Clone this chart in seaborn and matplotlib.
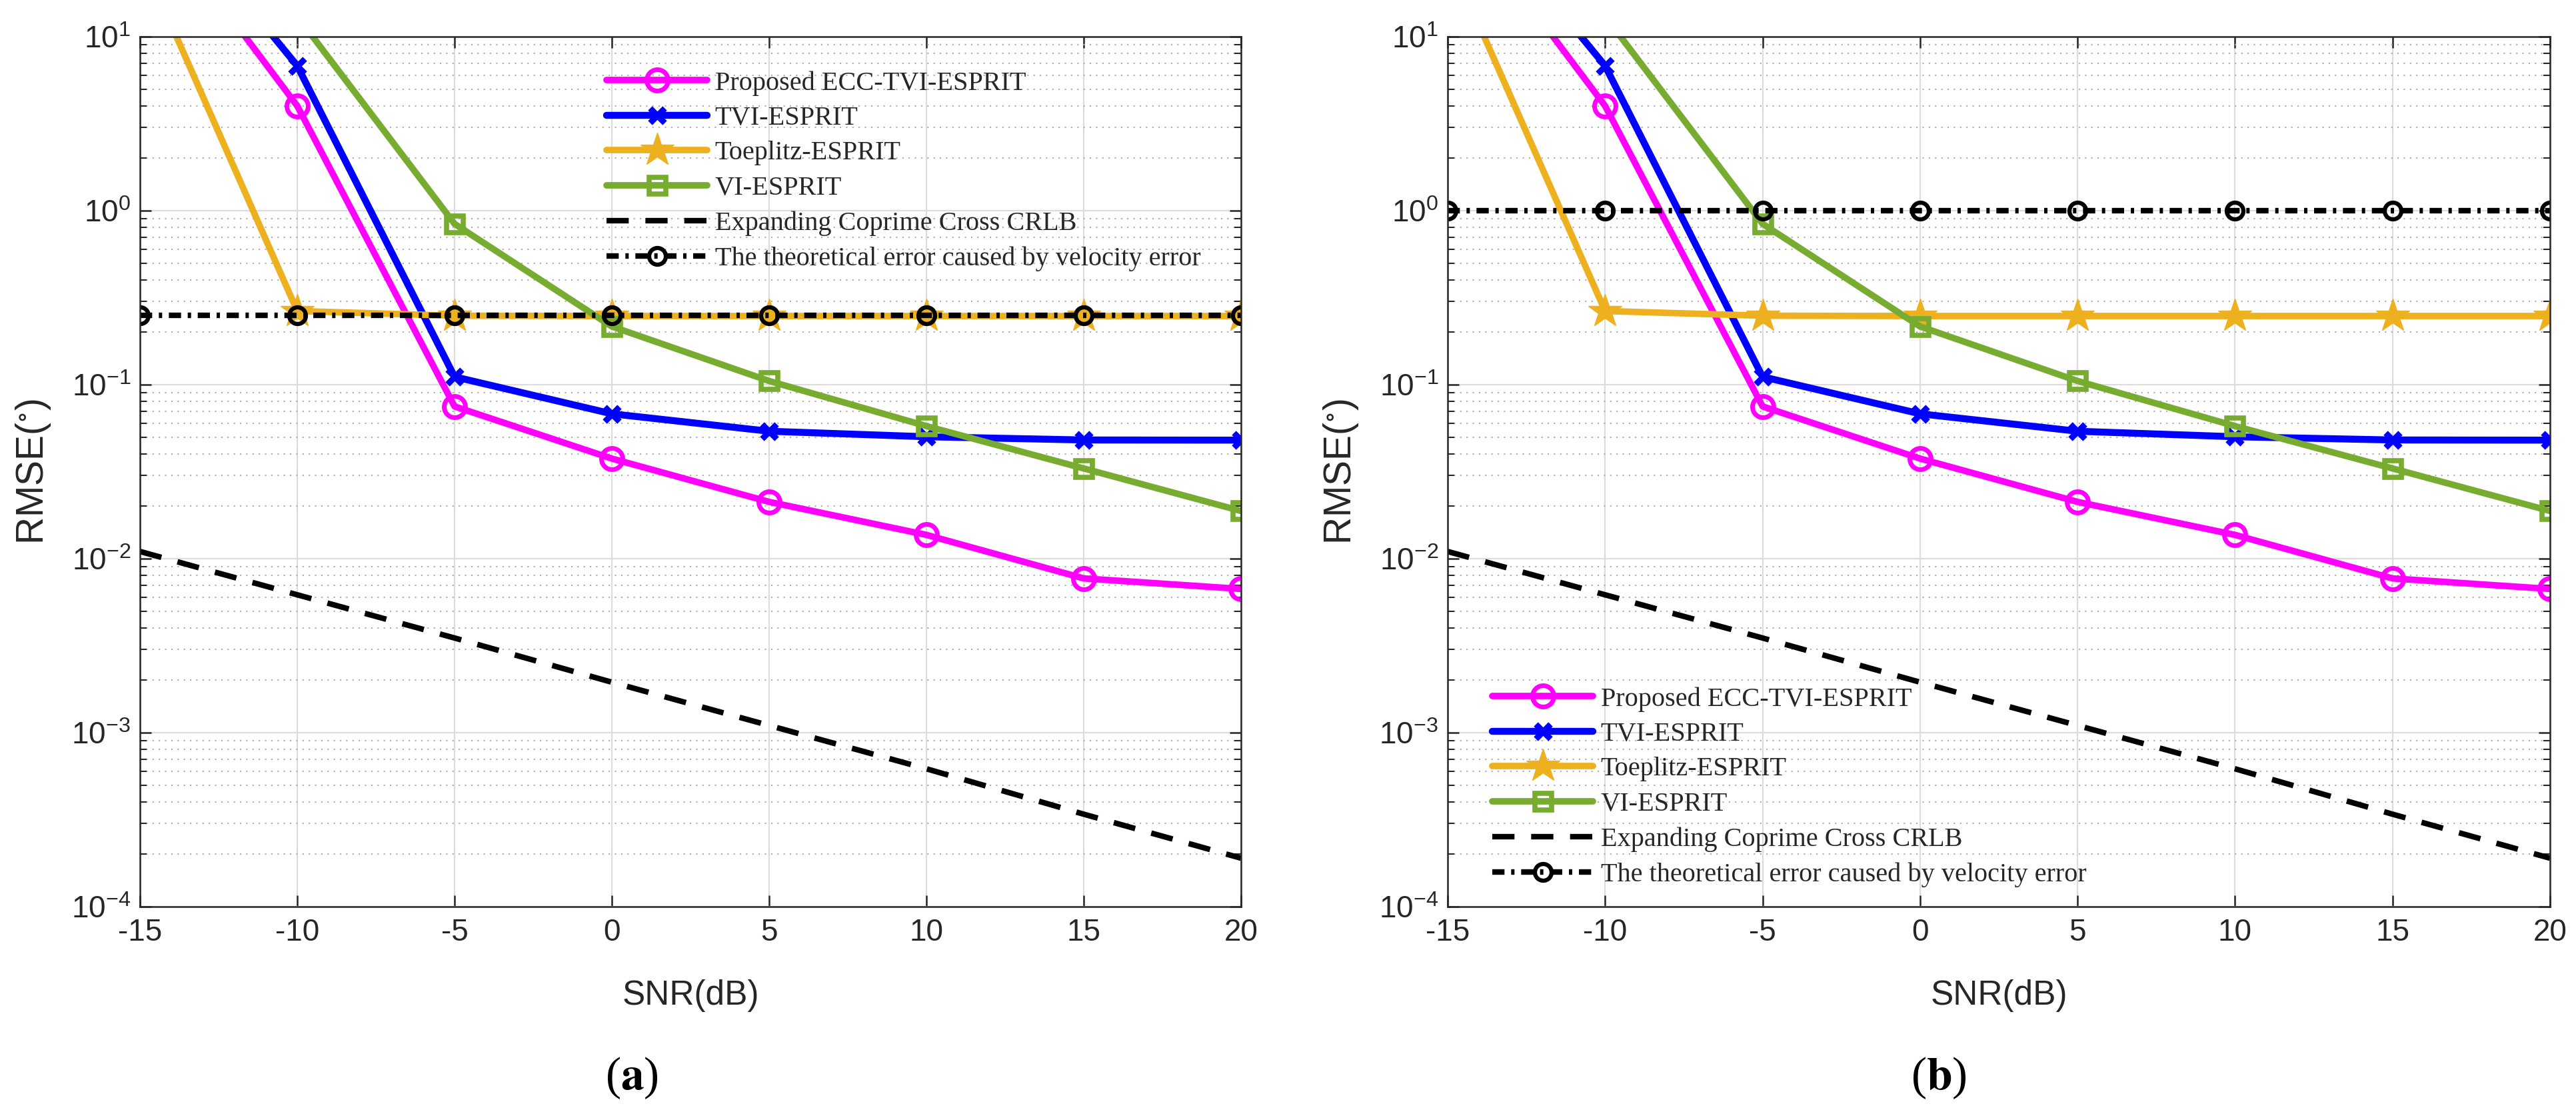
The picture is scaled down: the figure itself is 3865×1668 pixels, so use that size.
import numpy as np
import pandas as pd
import matplotlib
matplotlib.use("Agg")
import matplotlib.pyplot as plt
import seaborn as sns
from matplotlib.ticker import LogLocator, NullFormatter, LogFormatterSciNotation
from matplotlib.font_manager import FontProperties

# ---------------- data ----------------
snr = [-15, -10, -5, 0, 5, 10, 15, 20]
proposed = [64, 4.0, 0.075, 0.0376, 0.0212, 0.0137, 0.0077, 0.0067]
tvi = [86, 6.8, 0.111, 0.068, 0.054, 0.0502, 0.0481, 0.048]
toeplitz = [30, 0.265, 0.249, 0.248, 0.248, 0.248, 0.248, 0.248]
vi = [205, 13.1, 0.84, 0.216, 0.105, 0.0578, 0.033, 0.0188]
crlb = [0.011, 0.0062, 0.0035, 0.00195, 0.0011, 0.00062, 0.00034, 0.00019]
theo_a = [0.25, 0.25, 0.25, 0.25, 0.25, 0.25, 0.25, 0.25]
theo_b = [1.0, 1.0, 1.0, 1.0, 1.0, 1.0, 1.0, 1.0]

labels = ["Proposed ECC-TVI-ESPRIT", "TVI-ESPRIT", "Toeplitz-ESPRIT", "VI-ESPRIT",
          "Expanding Coprime Cross CRLB", "The theoretical error caused by velocity error"]
xticks = [-15, -10, -5, 0, 5, 10, 15, 20]
panel_tags = ["a", "b"]

# ---------------- style ----------------
sns.set_style("ticks")
plt.rcParams["font.family"] = ["Liberation Sans", "DejaVu Sans"]
plt.rcParams["mathtext.fontset"] = "stix"
TXT = "#262626"

W, H = 3865, 1668
fig = plt.figure(figsize=(W / 100, H / 100), dpi=100)

def fx(px):
    return px / W

def fy(py):
    return 1 - py / H

top_px, bot_px = 55, 1360
axes_px = [(210, 1862), (2172, 3826)]
legend_anchor = [(910, 106), (2239, 1030)]
tag_pos = [(948, 1617), (2909, 1617)]
theos = [theo_a, theo_b]

for i in range(2):
    l, r = axes_px[i]
    ax = fig.add_axes([fx(l), fy(bot_px), (r - l) / W, (bot_px - top_px) / H])
    ax.set_yscale("log")

    sns.lineplot(x=snr, y=proposed, ax=ax, color="#FF00FF", lw=7, marker="o", ms=23,
                 mfc="none", mec="#FF00FF", mew=5, label=labels[0])
    sns.lineplot(x=snr, y=tvi, ax=ax, color="#0000FF", lw=7.5, marker="x", ms=16,
                 mec="#0000FF", mew=6.5, label=labels[1])
    sns.lineplot(x=snr, y=toeplitz, ax=ax, color="#EDB120", lw=7, marker="*", ms=38,
                 mfc="#EDB120", mec="#EDB120", mew=1, label=labels[2])
    sns.lineplot(x=snr, y=vi, ax=ax, color="#77AC30", lw=7, marker="s", ms=18,
                 mfc="none", mec="#77AC30", mew=5.5, label=labels[3])
    sns.lineplot(x=snr, y=crlb, ax=ax, color="black", lw=6, linestyle=(0, (4, 3)),
                 label=labels[4])
    sns.lineplot(x=snr, y=theos[i], ax=ax, color="black", lw=6,
                 linestyle=(0, (2.2, 1.2, 0.6, 1.2)), marker="o", ms=18, mfc="none",
                 mec="black", mew=4.5, label=labels[5])
    for ln in ax.get_lines():
        ln.set_clip_on(True)
        ln.set_solid_joinstyle("round")

    ax.set_xlim(-15, 20)
    ax.set_ylim(1e-4, 10)
    ax.set_xticks(xticks)
    ax.set_xticklabels([str(t) for t in xticks])
    ax.yaxis.set_major_locator(LogLocator(base=10, numticks=10))
    ax.yaxis.set_minor_locator(LogLocator(base=10, subs=np.arange(2, 10), numticks=20))
    ax.yaxis.set_major_formatter(LogFormatterSciNotation())
    ax.yaxis.set_minor_formatter(NullFormatter())

    ax.grid(True, which="major", axis="both", color="#dcdcdc", lw=1.6, ls="-")
    ax.grid(True, which="minor", axis="y", color="#adadad", lw=1.5, ls=(0, (1, 3.5)))
    ax.set_axisbelow(True)

    for s in ax.spines.values():
        s.set_visible(True)
        s.set_color(TXT)
        s.set_linewidth(1.8)
    ax.tick_params(axis="both", which="major", direction="in", length=12, width=1.8,
                   colors=TXT, labelsize=33, top=True, right=True, pad=12)
    ax.tick_params(axis="y", which="minor", direction="in", length=7, width=1.5,
                   colors=TXT, right=True, left=True)
    ax.tick_params(axis="y", which="major", pad=10)

    ax.set_xlabel("SNR(dB)", fontsize=37, color=TXT)
    ax.set_ylabel(r"RMSE($^{\circ}$)", fontsize=41, color=TXT)
    ax.xaxis.set_label_coords(0.5, (bot_px - 1494) / (bot_px - top_px))
    ax.xaxis.label.set_va("center")
    ax.yaxis.set_label_coords(-160 / (r - l), 0.5)
    ax.yaxis.label.set_va("center")

    handles, labs = ax.get_legend_handles_labels()
    if ax.get_legend() is not None:
        ax.get_legend().remove()
    ax.legend(handles, labs, loc="upper left",
              bbox_to_anchor=(fx(legend_anchor[i][0]), fy(legend_anchor[i][1])),
              bbox_transform=fig.transFigure, frameon=False,
              prop=FontProperties(family="Liberation Serif", size=29),
              handlelength=3.76, handletextpad=0.28, labelspacing=0.38,
              borderpad=0, borderaxespad=0, numpoints=1)

    fig.text(fx(tag_pos[i][0]), fy(tag_pos[i][1]), r"($\mathbf{%s}$)" % panel_tags[i],
             fontsize=50, family="Liberation Serif", ha="center", va="center",
             color="black")

fig.savefig("out.png", dpi=100)
